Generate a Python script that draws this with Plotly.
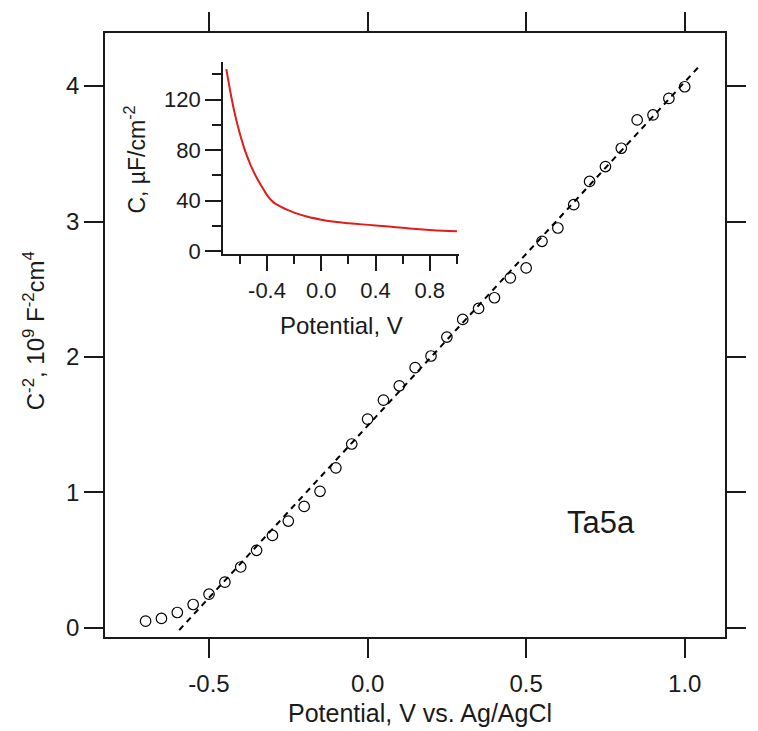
import plotly.graph_objects as go

# ---------------- data ----------------
main_x = [-0.70, -0.65, -0.60, -0.55, -0.50, -0.45, -0.40, -0.35, -0.30, -0.25,
          -0.20, -0.15, -0.10, -0.05, 0.00, 0.05, 0.10, 0.15, 0.20, 0.25,
          0.30, 0.35, 0.40, 0.45, 0.50, 0.55, 0.60, 0.65, 0.70, 0.75,
          0.80, 0.85, 0.90, 0.95, 1.00]
main_y = [0.049, 0.069, 0.113, 0.172, 0.248, 0.337, 0.449, 0.572, 0.682, 0.788,
          0.896, 1.008, 1.181, 1.357, 1.541, 1.681, 1.787, 1.921, 2.007, 2.147,
          2.277, 2.358, 2.437, 2.584, 2.657, 2.854, 2.952, 3.124, 3.296, 3.406,
          3.541, 3.750, 3.787, 3.909, 3.995]

fit_x = [-0.594, 1.046]
fit_y = [-0.017, 4.147]

inset_x = [-0.70, -0.67, -0.64, -0.60, -0.56, -0.52, -0.48, -0.44, -0.40,
           -0.35, -0.30, -0.25, -0.20, -0.10, 0.00, 0.10, 0.20, 0.30, 0.40,
           0.50, 0.60, 0.70, 0.80, 0.90, 1.00]
inset_y = [144, 126, 110, 93, 79, 68, 59, 51.5, 44.5,
           38.5, 35.3, 32.7, 30.6, 27.3, 25.0, 23.3, 22.2, 21.3, 20.5,
           19.6, 18.6, 17.6, 16.8, 16.2, 15.8]

main_xticks = [-0.5, 0.0, 0.5, 1.0]
main_yticks = [0, 1, 2, 3, 4]
inset_xticks = [-0.4, 0.0, 0.4, 0.8]
inset_yticks = [0, 40, 80, 120]

FONT = "Liberation Sans, Arial, sans-serif"
INK = "#1a1a1a"

fig = go.Figure()

fig.add_trace(go.Scatter(
    x=fit_x, y=fit_y, mode="lines",
    line=dict(color="black", width=2, dash="6px,5px"),
    showlegend=False, hoverinfo="skip"))

fig.add_trace(go.Scatter(
    x=main_x, y=main_y, mode="markers",
    marker=dict(symbol="circle-open", size=10.5, color="black",
                line=dict(width=1.2, color="black")),
    showlegend=False))

fig.add_trace(go.Scatter(
    x=inset_x, y=inset_y, mode="lines", xaxis="x2", yaxis="y2",
    line=dict(color="#e31b1b", width=2, shape="spline", smoothing=0.8),
    showlegend=False))

axis_common = dict(showgrid=False, zeroline=False, showline=True,
                   linecolor=INK, linewidth=1.6, ticks="outside",
                   tickcolor=INK, tickwidth=1.6,
                   tickfont=dict(family=FONT, size=24, color=INK))

inset_common = dict(showgrid=False, zeroline=False, showline=True,
                    linecolor=INK, linewidth=1.6, ticks="outside",
                    tickcolor=INK, tickwidth=1.6, ticklen=16,
                    tickfont=dict(family=FONT, size=22, color=INK))

fig.update_layout(
    width=758, height=731,
    margin=dict(l=105, r=13, t=31, b=94),
    paper_bgcolor="white", plot_bgcolor="white",
    font=dict(family=FONT, color=INK),
    xaxis=dict(range=[-0.828, 1.127], tickvals=main_xticks,
               ticktext=[f"{v:.1f}" for v in main_xticks],
               ticklen=19, mirror="ticks", ticklabelstandoff=5, **axis_common),
    yaxis=dict(range=[-0.068, 4.392], tickvals=main_yticks,
               ticklen=19, mirror="ticks", **axis_common),
    xaxis2=dict(domain=[0.1902, 0.5703], anchor="y2", range=[-0.725, 1.012],
                tickvals=inset_xticks,
                ticktext=[f"{v:.1f}" for v in inset_xticks],
                minor=dict(dtick=0.2, tick0=0, ticks="outside",
                           ticklen=9, tickwidth=1.6, tickcolor=INK),
                **inset_common),
    yaxis2=dict(domain=[0.6348, 0.952], anchor="x2", range=[-1.8, 149.7],
                tickvals=inset_yticks,
                minor=dict(dtick=20, tick0=0, ticks="outside",
                           ticklen=9, tickwidth=1.6, tickcolor=INK),
                **inset_common),
)

ann = [
    dict(text="Potential, V vs. Ag/AgCl", x=(430 - 105) / 640, y=(637 - 713) / 606,
         xref="paper", yref="paper", showarrow=False,
         font=dict(family=FONT, size=25, color=INK), xanchor="center", yanchor="middle"),
    dict(text="C<sup>-2</sup>, 10<sup>9</sup> F<sup>-2</sup>cm<sup>4</sup>",
         x=(32 - 105) / 640, y=(637 - 330) / 606, xref="paper", yref="paper",
         showarrow=False, textangle=-90,
         font=dict(family=FONT, size=24, color=INK), xanchor="center", yanchor="middle"),
    dict(text="Potential, V", x=(349 - 105) / 640, y=(637 - 324) / 606,
         xref="paper", yref="paper", showarrow=False,
         font=dict(family=FONT, size=24, color=INK), xanchor="center", yanchor="middle"),
    dict(text="C, µF/cm<sup>-2</sup>", x=(136 - 105) / 640, y=(637 - 158) / 606,
         xref="paper", yref="paper", showarrow=False, textangle=-90,
         font=dict(family=FONT, size=23, color=INK), xanchor="center", yanchor="middle"),
    dict(text="Ta5a", x=(617 - 105) / 640, y=(637 - 522) / 606,
         xref="paper", yref="paper", showarrow=False,
         font=dict(family=FONT, size=31, color=INK), xanchor="center", yanchor="middle"),
]
fig.update_layout(annotations=ann)

fig.write_html("out.html")
